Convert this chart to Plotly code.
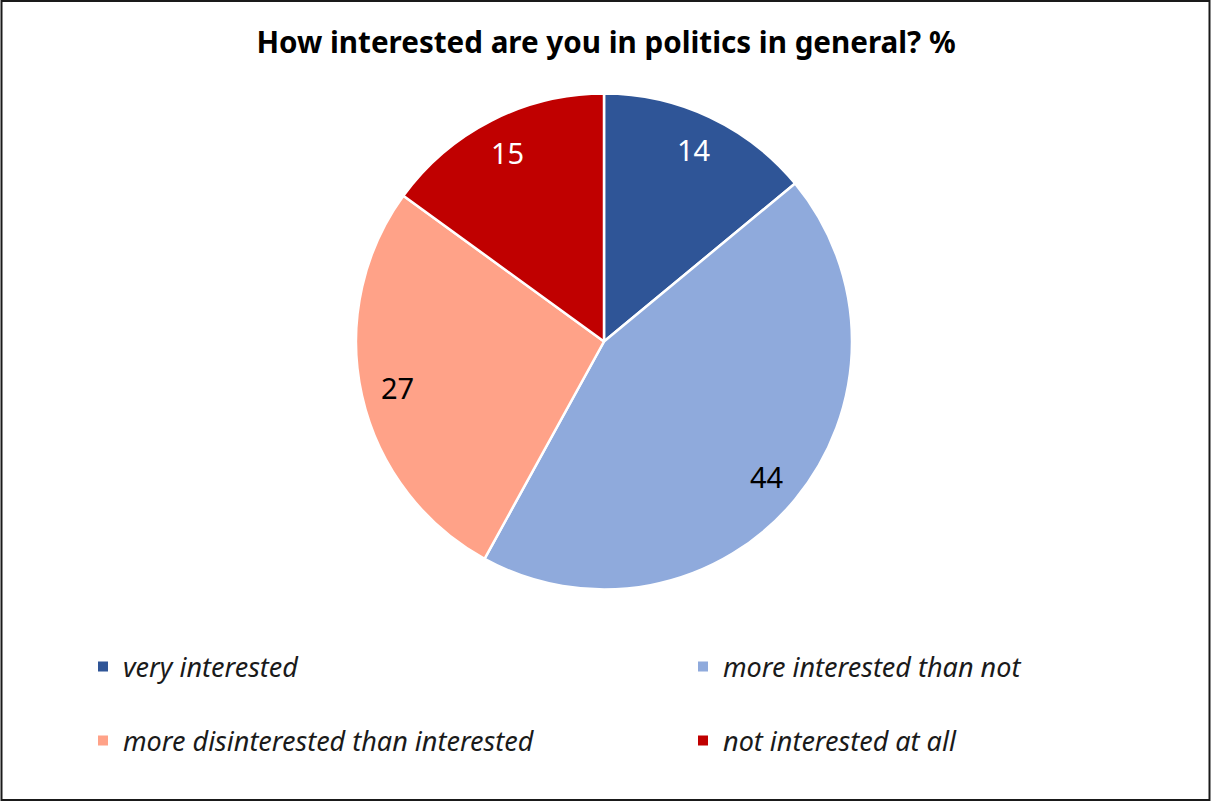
import numpy as np
import plotly.graph_objects as go

# Survey answers (%)
categories = [
    "very interested",
    "more interested than not",
    "more disinterested than interested",
    "not interested at all",
]
values = [14, 44, 27, 15]
colors = ["#2F5597", "#8FAADC", "#FFA288", "#C00000"]
label_colors = ["white", "black", "black", "white"]

W, H = 1212, 802
FONT = "Noto Sans"

# Pie placement in pixels
cx_px, cy_px, R_px = 604, 341.5, 248
dom_x = [(cx_px - R_px) / W, (cx_px + R_px) / W]
dom_y = [(H - cy_px - R_px) / H, (H - cy_px + R_px) / H]

fig = go.Figure()
fig.add_trace(go.Pie(
    values=values,
    labels=categories,
    sort=False,
    direction="clockwise",
    rotation=0,
    marker=dict(colors=colors, line=dict(color="white", width=2.5)),
    textinfo="none",
    showlegend=False,
    domain=dict(x=dom_x, y=dom_y),
    hoverinfo="label+value",
))

# Value labels placed near the outer edge of each slice
total = sum(values)
starts = np.cumsum([0] + values[:-1])
for v, s, col in zip(values, starts, label_colors):
    theta = 2 * np.pi * (s + v / 2) / total
    x = cx_px + 0.855 * R_px * np.sin(theta)
    y = cy_px - 0.855 * R_px * np.cos(theta)
    fig.add_annotation(
        x=x / W, y=1 - y / H, xref="paper", yref="paper",
        xanchor="center", yanchor="middle",
        text=str(v), showarrow=False,
        font=dict(family=FONT, size=29, color=col),
    )

# Legend: one small legend per entry, laid out as a 2x2 grid
legend_pos = [(83, 667), (683, 667), (83, 741), (683, 741)]
legend_names = ["legend", "legend2", "legend3", "legend4"]
for cat, col, lg in zip(categories, colors, legend_names):
    fig.add_trace(go.Scatter(
        x=[None], y=[None], mode="markers",
        marker=dict(symbol="square", size=10, color=col),
        name=cat,
        legend=lg,
        showlegend=True,
    ))

legend_layout = {}
for lg, (lx, ly) in zip(legend_names, legend_pos):
    legend_layout[lg] = dict(
        x=lx / W, y=1 - ly / H,
        xanchor="left", yanchor="middle",
        orientation="h",
        font=dict(family=FONT, size=27, color="#1a1a1a", style="italic"),
        bgcolor="rgba(0,0,0,0)",
        itemclick=False,
    )

fig.update_layout(
    width=W, height=H,
    margin=dict(l=0, r=0, t=0, b=0),
    paper_bgcolor="white",
    plot_bgcolor="white",
    xaxis=dict(visible=False),
    yaxis=dict(visible=False),
    title=dict(
        text="How interested are you in politics in general? %",
        x=0.5, xanchor="center", y=1 - 43 / H, yanchor="middle",
        font=dict(family=FONT, size=29.6, color="black", weight="bold"),
    ),
    shapes=[dict(
        type="rect", xref="paper", yref="paper",
        x0=1.5 / W, x1=1209.5 / W, y0=1 - 800 / H, y1=1 - 1 / H,
        line=dict(color="#1a1a1a", width=2),
    )],
    **legend_layout,
)

fig.write_html("out.html")
